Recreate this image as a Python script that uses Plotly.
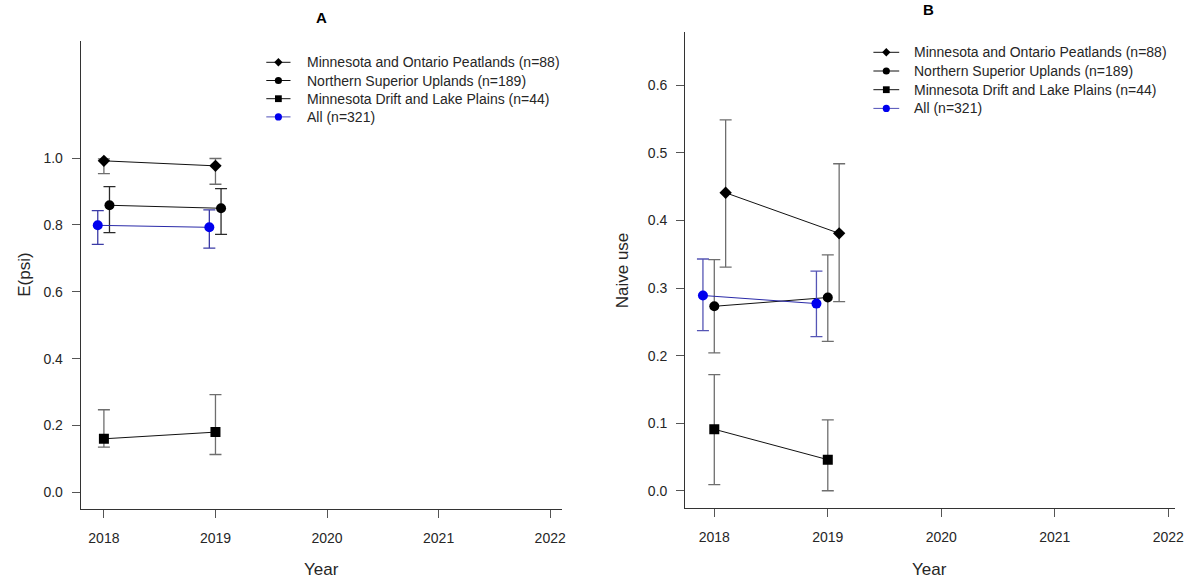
import plotly.graph_objects as go

# ---------------- data ----------------
years = [2018, 2019]
series_names = [
    "Minnesota and Ontario Peatlands (n=88)",
    "Northern Superior Uplands (n=189)",
    "Minnesota Drift and Lake Plains (n=44)",
    "All (n=321)",
]

# Panel A: E(psi)
a_peat = [0.992, 0.977]
a_peat_hi = [0.998, 0.999]
a_peat_lo = [0.954, 0.922]
a_upl = [0.859, 0.850]
a_upl_hi = [0.915, 0.909]
a_upl_lo = [0.777, 0.772]
a_drift = [0.160, 0.180]
a_drift_hi = [0.247, 0.292]
a_drift_lo = [0.135, 0.113]
a_all = [0.799, 0.793]
a_all_hi = [0.843, 0.845]
a_all_lo = [0.742, 0.731]

# Panel B: Naive use
b_peat = [0.441, 0.381]
b_peat_hi = [0.549, 0.484]
b_peat_lo = [0.331, 0.280]
b_upl = [0.273, 0.286]
b_upl_hi = [0.342, 0.349]
b_upl_lo = [0.204, 0.221]
b_drift = [0.091, 0.046]
b_drift_hi = [0.172, 0.105]
b_drift_lo = [0.009, 0.000]
b_all = [0.289, 0.277]
b_all_hi = [0.343, 0.325]
b_all_lo = [0.237, 0.228]

x_ticks = [2018, 2019, 2020, 2021, 2022]
a_y_ticks = [0.0, 0.2, 0.4, 0.6, 0.8, 1.0]
b_y_ticks = [0.0, 0.1, 0.2, 0.3, 0.4, 0.5, 0.6]

# ---------------- styling ----------------
FW, FH = 1200, 583
FONT = "Liberation Sans, Arial, sans-serif"
TXT = "#262626"

# horizontal dodge (years) per series in each panel
dodge_a = [0.0, 0.05, 0.0, -0.055]
dodge_b = [0.10, 0.0, 0.0, -0.10]

symbols = ["diamond", "circle", "square", "circle"]
msizes = [9.5, 10, 10, 10]
mcolors = ["black", "black", "black", "#0000ee"]
linecolors = ["#111111", "#111111", "#111111", "#2a2aa8"]
legend_linecolors = ["#111111", "#111111", "#111111", "#5050b8"]
err_a = ["#6e6e6e", "#2a2a2a", "#6e6e6e", "#3b3ba6"]
err_b = ["#6e6e6e", "#6e6e6e", "#6e6e6e", "#5555b5"]


def px_x(p):
    return p / FW


def px_y(p):
    return 1 - p / FH


fig = go.Figure()

panels = [
    dict(xa="x", ya="y", dodge=dodge_a, errc=err_a,
         data=[(a_peat, a_peat_hi, a_peat_lo), (a_upl, a_upl_hi, a_upl_lo),
               (a_drift, a_drift_hi, a_drift_lo), (a_all, a_all_hi, a_all_lo)]),
    dict(xa="x2", ya="y2", dodge=dodge_b, errc=err_b,
         data=[(b_peat, b_peat_hi, b_peat_lo), (b_upl, b_upl_hi, b_upl_lo),
               (b_drift, b_drift_hi, b_drift_lo), (b_all, b_all_hi, b_all_lo)]),
]

for p in panels:
    for i, (vals, hi, lo) in enumerate(p["data"]):
        xs = [yr + p["dodge"][i] for yr in years]
        fig.add_trace(go.Scatter(
            x=xs, y=vals, mode="lines+markers", name=series_names[i],
            xaxis=p["xa"], yaxis=p["ya"], showlegend=False,
            line=dict(color=linecolors[i], width=1),
            marker=dict(symbol=symbols[i], size=msizes[i], color=mcolors[i]),
            error_y=dict(type="data", symmetric=False,
                         array=[h - v for h, v in zip(hi, vals)],
                         arrayminus=[v - l for l, v in zip(lo, vals)],
                         color=p["errc"][i], thickness=1.3, width=6),
        ))

axis_common = dict(
    showline=True, linecolor="#333333", linewidth=1,
    ticks="outside", ticklen=8, tickcolor="#555555", tickwidth=1,
    showgrid=False, zeroline=False, mirror=False,
    tickfont=dict(family=FONT, size=14, color=TXT),
    fixedrange=True,
)

fig.update_layout(
    width=FW, height=FH,
    margin=dict(l=0, r=0, t=0, b=0),
    paper_bgcolor="white", plot_bgcolor="white",
    font=dict(family=FONT, color=TXT),
    showlegend=False,
    xaxis=dict(domain=[px_x(81.3), px_x(566.7)], range=[2017.792, 2022.110],
               tickvals=x_ticks, ticktext=[str(t) for t in x_ticks],
               anchor="y", ticklabelstandoff=8, **axis_common),
    yaxis=dict(domain=[px_y(509.3), px_y(40.9)], range=[-0.051, 1.351],
               tickvals=a_y_ticks, ticktext=[f"{t:.1f}" for t in a_y_ticks],
               anchor="x", ticklabelstandoff=6, **axis_common),
    xaxis2=dict(domain=[px_x(690.3), px_x(1184)], range=[2017.743, 2022.06],
                tickvals=x_ticks, ticktext=[str(t) for t in x_ticks],
                anchor="y2", ticklabelstandoff=8, **axis_common),
    yaxis2=dict(domain=[px_y(508.3), px_y(32)], range=[-0.026, 0.679],
                tickvals=b_y_ticks, ticktext=[f"{t:.1f}" for t in b_y_ticks],
                anchor="x2", ticklabelstandoff=6, **axis_common),
)

annotations = [
    dict(text="<b>A</b>", x=px_x(323.5), y=px_y(17.3)),
    dict(text="<b>B</b>", x=px_x(936), y=px_y(9.5)),
    dict(text="Year", x=px_x(324), y=px_y(569), size=17),
    dict(text="Year", x=px_x(937), y=px_y(569), size=17),
    dict(text="E(psi)", x=px_x(24), y=px_y(275), size=17, angle=-90),
    dict(text="Naive use", x=px_x(627), y=px_y(270), size=17, angle=-90),
]
for a in annotations:
    fig.add_annotation(
        text=a["text"], x=a["x"], y=a["y"], xref="paper", yref="paper",
        xanchor="center", yanchor="middle", showarrow=False,
        textangle=a.get("angle", 0),
        font=dict(family=FONT, size=a.get("size", 15),
                  color="black" if "<b>" in a["text"] else TXT),
    )

# ---------------- legends (R-style key boxes) ----------------
# (line start px, line end px, text start px, first row centre px, row step px)
legend_boxes = [
    (268.3, 292.7, 307.0, 62.3, 18.2),
    (880.0, 906.0, 919.0, 52.3, 18.7),
]
legend_msize = [4.2, 3.6, 3.4, 3.6]   # half-size of key glyph in px

for (lx0, lx1, tx, ry0, step) in legend_boxes:
    for i, name in enumerate(series_names):
        cy = ry0 + i * step
        cx = (lx0 + lx1) / 2
        fig.add_shape(type="line", xref="paper", yref="paper",
                      x0=px_x(lx0), x1=px_x(lx1), y0=px_y(cy), y1=px_y(cy),
                      line=dict(color=legend_linecolors[i], width=1))
        r = legend_msize[i]
        if symbols[i] == "diamond":
            path = (f"M{px_x(cx - r)},{px_y(cy)} L{px_x(cx)},{px_y(cy - r)} "
                    f"L{px_x(cx + r)},{px_y(cy)} L{px_x(cx)},{px_y(cy + r)} Z")
            fig.add_shape(type="path", xref="paper", yref="paper", path=path,
                          fillcolor=mcolors[i], line=dict(width=0))
        else:
            fig.add_shape(type="circle" if symbols[i] == "circle" else "rect",
                          xref="paper", yref="paper",
                          x0=px_x(cx - r), x1=px_x(cx + r),
                          y0=px_y(cy + r), y1=px_y(cy - r),
                          fillcolor=mcolors[i], line=dict(width=0))
        fig.add_annotation(text=name, x=px_x(tx), y=px_y(cy),
                           xref="paper", yref="paper", xanchor="left",
                           yanchor="middle", showarrow=False,
                           font=dict(family=FONT, size=14, color=TXT))

# remove the browser's default 8px page margin so the figure sits at (0, 0)
fig.write_html("out.html",
               config={"displayModeBar": False, "staticPlot": True},
               post_script="document.body.style.margin='0px';"
                           "document.body.style.overflow='hidden';")
